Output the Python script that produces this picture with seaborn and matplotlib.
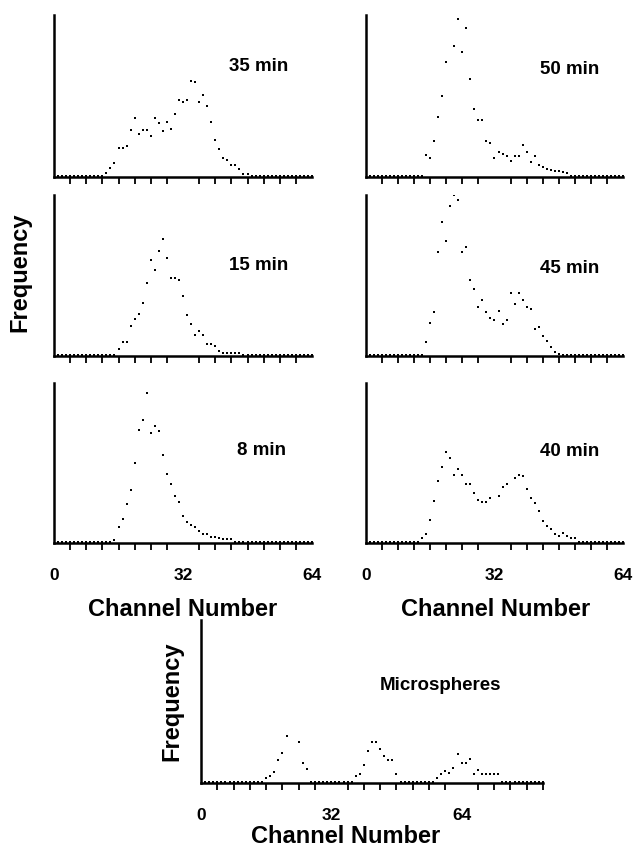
import numpy as np
import pandas as pd
import matplotlib
matplotlib.use("Agg")
import matplotlib.pyplot as plt
import seaborn as sns

nan = np.nan

channels64 = list(range(65))
channels84 = list(range(85))

freq_35 = [0]*13 + [7, 22, 40, 83, 83, 89, 138, 176, 126, 138, 138, 121, 176, 159, 137, 164, 143, 186,
                    229, 224, 230, 289, 283, 224, 245, 212, 164, 109, 81, 53, 48, 33, 33, 20, 6, 4] + [0]*16
freq_50 = [0]*15 + [62, 55, 104, 177, 241, 344, 492, 394, 476, 377, 449, 295, 203, 170, 170, 104, 98, 55,
                    72, 66, 60, 44, 60, 60, 94, 72, 43, 60, 33, 26, 20, 16, 15, 13, 11, 7] + [0]*14
freq_15 = [0]*16 + [16, 39, 39, 89, 109, 125, 159, 219, 289, 258, 317, 354, 294, 235, 235, 229, 180, 120,
                    93, 60, 71, 60, 33, 33, 28, 10, 6, 6, 6, 6, 6] + [0]*18
freq_45 = [0]*15 + [38, 97, 130, 315, 407, 346, 455, 489, 472, 314, 330, 228, 200, 145, 168, 129, 113, 107,
                    134, 95, 106, 189, 156, 189, 167, 145, 139, 78, 85, 57, 41, 25, 8, 3] + [0]*16
freq_8 = [0]*15 + [6, 44, 71, 116, 160, 241, 344, 373, 456, 334, 356, 340, 268, 208, 176, 139, 121, 79,
                   62, 51, 45, 34, 23, 23, 13, 13, 11, 7, 7, 7] + [0]*20
freq_40 = [0]*14 + [10, 24, 66, 126, 188, 231, 275, 258, 204, 225, 204, 177, 177, 149, 128, 123, 123, 135,
                    nan, 141, 167, 177, nan, 195, 205, 201, 163, 135, 118, 93, 64, 49, 38, 23, 16, 27, 17,
                    11, 11] + [0]*12
freq_micro = ([0]*16 + [10, 16, 28, 66, 88, 138, nan, nan, 120, 56, 38] + [0]*11 +
              [17, 24, 51, 93, 121, 121, 100, 78, 66, 66, 24] + [0]*9 +
              [11, 23, 33, 25, 40, 83, 56, 56, 67, 24, 36, 24, 24, 24, 24, 24] + [0]*11)

panel_labels = ["35 min", "50 min", "15 min", "45 min", "8 min", "40 min", "Microspheres"]
tick_labels = ["0", "32", "64"]
axis_xlabel = "Channel Number"
axis_ylabel = "Frequency"

sns.set_theme(style="white")
plt.rcParams["font.family"] = ["Liberation Sans", "DejaVu Sans"]
plt.rcParams["text.color"] = "black"
plt.rcParams["xtick.color"] = "black"

W, H = 634, 846
fig = plt.figure(figsize=(W / 100, H / 100), dpi=100)


def px_axes(x0, y0, x1, y1):
    return fig.add_axes([x0 / W, 1 - y1 / H, (x1 - x0) / W, (y1 - y0) / H])


def draw(ax, ch, vals, label, xmax, lx, ly, ha="right", show_labels=True):
    df = pd.DataFrame({"channel": ch, "freq": vals})
    sns.scatterplot(data=df, x="channel", y="freq", ax=ax, color="black", s=2.4,
                    marker="s", linewidth=0, legend=False)
    ax.set_xlim(0, xmax)
    ax.set_ylim(-4, 488)
    for s in ["top", "right"]:
        ax.spines[s].set_visible(False)
    for s in ["left", "bottom"]:
        ax.spines[s].set_linewidth(1.8)
        ax.spines[s].set_color("black")
    ax.set_yticks([])
    ax.set_xticks([0, 32, 64])
    ax.set_xticks(list(range(0, xmax + 1, 4)), minor=True)
    ax.tick_params(axis="x", which="major", direction="out", length=11, width=1.6,
                   color="black", pad=7, labelsize=12.5, labelcolor="black",
                   labelbottom=show_labels)
    ax.tick_params(axis="x", which="minor", direction="out", length=5, width=1.3,
                   color="black", bottom=True)
    ax.set_xticklabels(tick_labels, fontweight="bold")
    ax.set_xlabel("")
    ax.set_ylabel("")
    ax.patch.set_alpha(0)
    ax.text(lx, ly, label, transform=ax.transAxes, ha=ha, va="center",
            fontsize=13.5, fontweight="bold", color="black")


lx0, lx1 = 54, 312
rx0, rx1 = 366, 623
rows = [(15, 177), (195, 356), (383, 543)]

a = px_axes(lx0, rows[0][0], lx1, rows[0][1]); draw(a, channels64, freq_35, panel_labels[0], 64, 0.908, 0.68, show_labels=False)
a = px_axes(rx0, rows[0][0], rx1, rows[0][1]); draw(a, channels64, freq_50, panel_labels[1], 64, 0.908, 0.665, show_labels=False)
a = px_axes(lx0, rows[1][0], lx1, rows[1][1]); draw(a, channels64, freq_15, panel_labels[2], 64, 0.908, 0.56, show_labels=False)
a = px_axes(rx0, rows[1][0], rx1, rows[1][1]); draw(a, channels64, freq_45, panel_labels[3], 64, 0.908, 0.545, show_labels=False)
a = px_axes(lx0, rows[2][0], lx1, rows[2][1]); draw(a, channels64, freq_8, panel_labels[4], 64, 0.9, 0.578)
a = px_axes(rx0, rows[2][0], rx1, rows[2][1]); draw(a, channels64, freq_40, panel_labels[5], 64, 0.908, 0.57)
a = px_axes(201, 620, 543, 783); draw(a, channels84, freq_micro, panel_labels[6], 84, 0.70, 0.597, ha="center")

lab = dict(fontsize=17, fontweight="bold", ha="center", va="center", color="black")
fig.text(183 / W, 1 - 609 / H, axis_xlabel, **lab)
fig.text(496 / W, 1 - 609 / H, axis_xlabel, **lab)
fig.text(346 / W, 1 - 836 / H, axis_xlabel, **lab)
fig.text(20 / W, 1 - 272 / H, axis_ylabel, rotation=90, **lab)
fig.text(172 / W, 1 - 701 / H, axis_ylabel, rotation=90, **lab)

fig.savefig("out.png", dpi=100, facecolor="white")
